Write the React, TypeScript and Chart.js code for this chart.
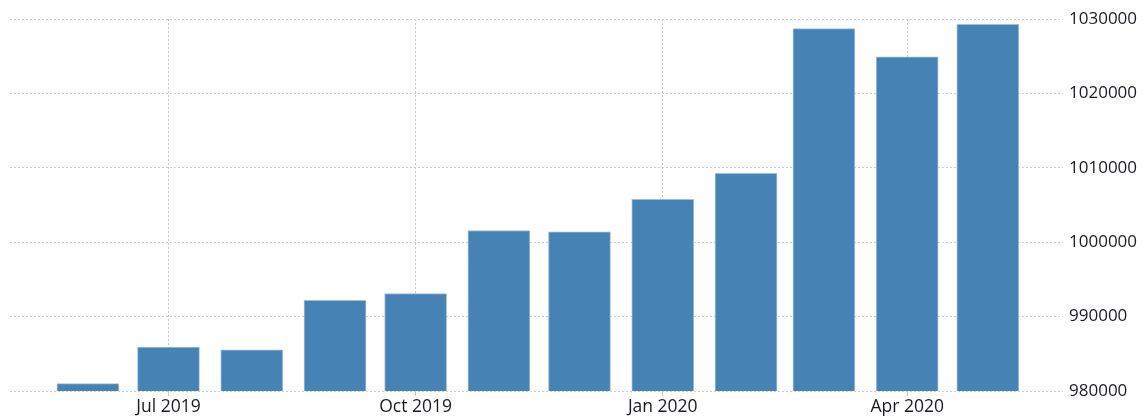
import React, { useEffect, useRef } from "react";
import { Chart, registerables } from "chart.js";

Chart.register(...registerables);

// Month start dates for each bar (Jun 2019 - May 2020)
const barDates: string[] = [
  "2019-06-01", "2019-07-01", "2019-08-01", "2019-09-01",
  "2019-10-01", "2019-11-01", "2019-12-01", "2020-01-01",
  "2020-02-01", "2020-03-01", "2020-04-01", "2020-05-01",
];

const values: number[] = [
  981000, 985900, 985550, 992200, 993100, 1001570,
  1001400, 1005750, 1009250, 1028700, 1024900, 1029300,
];

const tickDates: string[] = ["2019-07-01", "2019-10-01", "2020-01-01", "2020-04-01"];
const tickLabels: string[] = ["Jul 2019", "Oct 2019", "Jan 2020", "Apr 2020"];

const xMinDate = "2019-05-03";
const xMaxDate = "2020-05-29";

const yMin = 980000;
const yMax = 1030000;
const yStep = 10000;

const toMs = (s: string) => Date.parse(s + "T00:00:00Z");

export default function App() {
  const ref = useRef<HTMLCanvasElement | null>(null);

  useEffect(() => {
    document.body.style.margin = "0";
    if (!ref.current) return;
    const yFont = { family: "'Open Sans', sans-serif", size: 17 };
    const xFont = { family: "'Open Sans', sans-serif", size: 17.5 };
    const chart = new Chart(ref.current, {
      type: "bar",
      data: {
        datasets: [
          {
            data: values.map((v, i) => ({ x: toMs(barDates[i]), y: v })),
            backgroundColor: "#4682b4",
            borderColor: "#9fbfdb",
            borderWidth: 1,
            barThickness: 62,
          },
        ],
      },
      options: {
        animation: false,
        responsive: true,
        maintainAspectRatio: false,
        layout: { padding: { left: 10, top: 19, right: 0, bottom: 0 } },
        plugins: { legend: { display: false }, tooltip: { enabled: false } },
        scales: {
          x: {
            type: "linear",
            offset: false,
            min: toMs(xMinDate),
            max: toMs(xMaxDate),
            afterBuildTicks: (scale: any) => {
              scale.ticks = tickDates.map((d) => ({ value: toMs(d) }));
            },
            afterFit: (scale: any) => {
              scale.height = 26;
            },
            ticks: {
              autoSkip: false,
              maxRotation: 0,
              padding: 1,
              color: "#1b1b24",
              font: xFont,
              callback: (_v: any, i: number) => tickLabels[i],
            },
            grid: {
              offset: false,
              color: "#c8c8c8",
              lineWidth: 1,
              drawTicks: true,
              tickLength: 5,
            },
            border: { display: false, dash: [2, 2] },
          },
          y: {
            position: "right",
            min: yMin,
            max: yMax,
            afterFit: (scale: any) => {
              scale.width = 83;
            },
            ticks: {
              stepSize: yStep,
              padding: 6,
              color: "#1b1b24",
              font: yFont,
              callback: (v: any) => String(v),
            },
            grid: {
              color: "#cfcfcf",
              lineWidth: 1,
              drawTicks: false,
            },
            border: { display: false, dash: [2, 2] },
          },
        },
      },
    } as any);
    return () => chart.destroy();
  }, []);

  return (
    <div style={{ position: "relative", width: 1146, height: 417 }}>
      <canvas ref={ref} />
    </div>
  );
}
